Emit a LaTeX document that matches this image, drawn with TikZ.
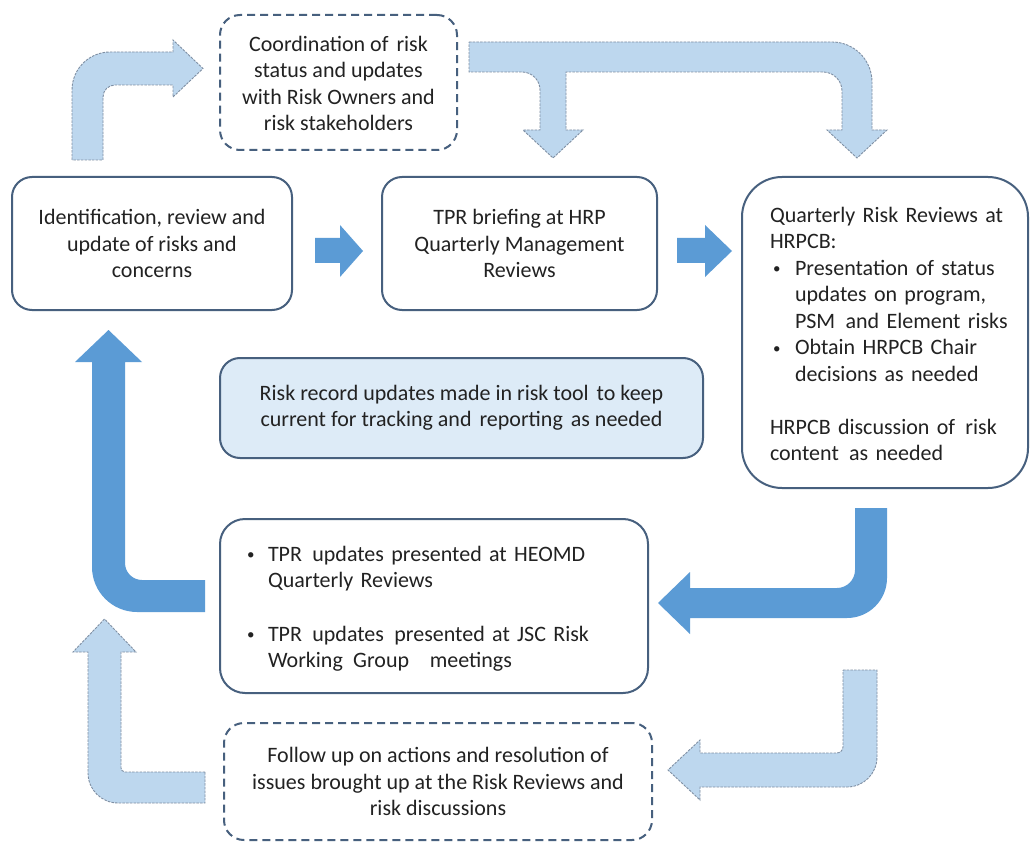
\documentclass[tikz,border=0pt]{standalone}
\usepackage{fontspec}
\setmainfont{Carlito}
\definecolor{boxline}{HTML}{47607E}
\definecolor{darkblue}{HTML}{5B9BD5}
\definecolor{lightblue}{HTML}{BDD7EE}
\definecolor{arrowedge}{HTML}{7F8FA3}
\definecolor{paleblue}{HTML}{DDEBF7}
\definecolor{txt}{HTML}{222222}
\newcommand\mainfs{\fontsize{22pt}{26.5pt}\selectfont}
% a slightly widened word space, and a small list bullet
\newcommand\wsp{\hspace{3pt}\ }
\newcommand\bul{\raisebox{1.5pt}{\fontsize{15pt}{15pt}\selectfont\textbullet}}
% lower a block of lines a little without changing its size
\newcommand\dropblock[2]{\raisebox{-#1}[\height][\depth]{#2}}
\tikzset{
  box/.style={draw=boxline, line width=2pt, rounded corners=20pt, inner sep=0pt,
              fill=white, text=txt, font=\mainfs},
  dashbox/.style={box, dash pattern=on 8pt off 5pt},
  darkarrow/.style={fill=darkblue, draw=none},
  lightarrow/.style={fill=lightblue, draw=arrowedge, line width=0.9pt,
                     dash pattern=on 2.5pt off 1.2pt},
}
\begin{document}
\begin{tikzpicture}[x=1pt,y=-1pt]
\useasboundingbox[fill=white] (0,0) rectangle (1030,842);

% process steps
\node[dashbox, minimum width=237pt, minimum height=135pt] (coord) at (338.5,82.5)
  {\dropblock{3pt}{\begin{tabular}{@{}c@{}}
   Coordination of\wsp risk\\ status and updates\\ with Risk Owners and\\ risk stakeholders
   \end{tabular}}};
\node[box, minimum width=280pt, minimum height=133pt, align=center] (ident) at (152,243.5)
  {Identification, review and\\ update of risks and\\ concerns};
\node[box, minimum width=275pt, minimum height=133pt, align=center] (brief) at (519.5,243.5)
  {TPR briefing at HRP\\ Quarterly Management\\ Reviews};
\node[box, rounded corners=40pt, minimum width=286pt, minimum height=311pt,
      text width=240pt, inner xsep=23pt, align=left] (qrr) at (885,332.5)
  {\hspace*{5pt}\dropblock{3.5pt}{\begin{tabular}{@{}l@{}}
   Quarterly Risk Reviews at\\
   HRPCB:\\
   \hspace*{3pt}\makebox[22pt][l]{\bul}Presentation of status\\
   \hspace*{25pt}updates on program,\\
   \hspace*{25pt}PSM\wsp and Element risks\\
   \hspace*{3pt}\makebox[22pt][l]{\bul}Obtain HRPCB Chair\\
   \hspace*{25pt}decisions as needed\\
   \\
   HRPCB discussion of\wsp risk\\
   content\wsp as needed
   \end{tabular}}};
\node[box, fill=paleblue, minimum width=483pt, minimum height=100pt, align=center] (rec) at (461.5,408)
  {Risk record updates made in risk tool\wsp to keep\\ current for tracking and\wsp reporting\wsp as needed};
\node[box, rounded corners=25pt, minimum width=428pt, minimum height=174pt,
      text width=374pt, inner xsep=27pt, align=left] (upd) at (434,606)
  {\dropblock{3pt}{\begin{tabular}{@{}l@{}}
   \makebox[21pt][l]{\bul}TPR\wsp updates presented at HEOMD\\
   \hspace*{21pt}Quarterly Reviews\\[27pt]
   \makebox[21pt][l]{\bul}TPR\wsp updates\wsp presented at JSC Risk\\
   \hspace*{21pt}Working\wsp Group\wsp\wsp meetings
   \end{tabular}}};
\node[dashbox, minimum width=428pt, minimum height=117pt, align=center] (follow) at (438,781.5)
  {Follow up on actions and resolution of\\ issues brought up at the Risk Reviews and\\ risk discussions};

% straight block arrows along the top row
\fill[darkarrow] (315,238) -- (340,238) -- (340,225) -- (363,251) -- (340,277) -- (340,263) -- (315,263) -- cycle;
\fill[darkarrow] (677,238) -- (705,238) -- (705,225) -- (732,251) -- (705,277) -- (705,263) -- (677,263) -- cycle;

% bent arrow up into the coordination step
\filldraw[lightarrow] (72,160) -- (72,90) .. controls (72,69) and (89,52) .. (110,52)
  -- (173,52) -- (173,40) -- (203,68.5) -- (173,97) -- (173,85) -- (115,85)
  .. controls (108.4,85) and (103,90.4) .. (103,97) -- (103,160) -- cycle;

% split arrow from the coordination step to both review steps
\filldraw[lightarrow] (469,42) -- (832,42) .. controls (854.1,42) and (872,59.9) .. (872,82)
  -- (872,130) -- (887,130) -- (857,158) -- (827,130) -- (842,130) -- (842,91)
  .. controls (842,80.5) and (833.5,72) .. (823,72)
  -- (566,72) -- (566,130) -- (583,130) -- (553,158) -- (523,130) -- (540,130) -- (540,90)
  .. controls (540,80.1) and (531.9,72) .. (522,72) -- (469,72) -- cycle;

% return arrow from the HEOMD/JSC step back to identification
\fill[darkarrow] (205,580) -- (142,580) .. controls (132.6,580) and (125,572.4) .. (125,563)
  -- (125,362) -- (142,362) -- (108.5,330) -- (75,362) -- (92,362) -- (92,567)
  .. controls (92,591.8) and (112.2,612) .. (137,612) -- (205,612) -- cycle;

% arrow from the quarterly reviews down to the HEOMD/JSC step
\fill[darkarrow] (855,508) -- (887,508) -- (887,578) .. controls (887,600.1) and (869.1,618) .. (847,618)
  -- (690,618) -- (690,634) -- (658,603) -- (690,572) -- (690,588) -- (837,588)
  .. controls (846.9,588) and (855,579.9) .. (855,570) -- cycle;

% follow-up loop arrows
\filldraw[lightarrow] (205,772) -- (125,772) .. controls (122.8,772) and (121,769.8) .. (121,768)
  -- (121,652) -- (136,652) -- (104.5,619) -- (73,652) -- (88,652) -- (88,773)
  .. controls (88,789.6) and (101.4,803) .. (118,803) -- (205,803) -- cycle;
\filldraw[lightarrow] (843,670) -- (877,670) -- (877,757) .. controls (877,773.6) and (863.6,787) .. (847,787)
  -- (700,787) -- (700,800) -- (668,770) -- (700,740) -- (700,753) -- (837,753)
  .. controls (839.7,753) and (843,750.3) .. (843,747) -- cycle;
\end{tikzpicture}
\end{document}
